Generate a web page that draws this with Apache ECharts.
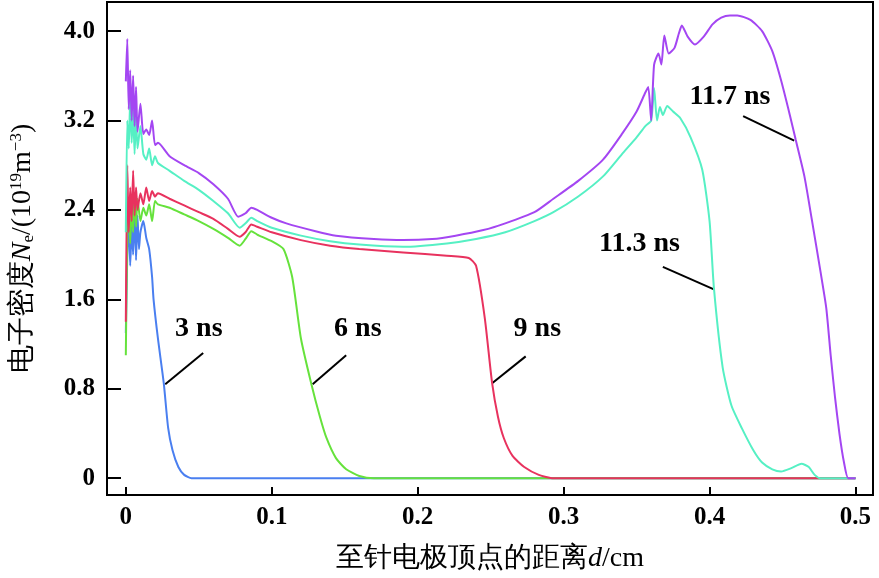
<!DOCTYPE html>
<html><head><meta charset="utf-8">
<script src="https://cdn.jsdelivr.net/npm/echarts@6/dist/echarts.min.js"></script>
<style>html,body{margin:0;padding:0;background:#fff}#c{width:879px;height:578px}</style>
</head><body><div id="c"></div>
<script>
// electron density profiles, [d (cm), Ne (1e19 m^-3)]
const s3ns = [[0,1.3],[0.001,2.0],[0.002,2.3],[0.003,1.9],[0.004,2.25],[0.005,2.0],[0.006,2.4],[0.007,1.95],[0.008,2.35],[0.009,2.05],[0.010,2.2],[0.012,2.3],[0.014,2.15],[0.016,2.05],[0.018,1.8],[0.019,1.6],[0.022,1.25],[0.026,0.85],[0.029,0.45],[0.032,0.25],[0.036,0.1],[0.040,0.03],[0.045,0],[0.10,0],[0.5,0]];
const s6ns = [[0,1.1],[0.001,2.2],[0.002,2.5],[0.003,2.1],[0.004,2.45],[0.005,2.2],[0.006,2.55],[0.007,2.25],[0.008,2.5],[0.010,2.3],[0.012,2.42],[0.014,2.35],[0.016,2.45],[0.018,2.3],[0.020,2.48],[0.022,2.45],[0.03,2.42],[0.04,2.36],[0.05,2.3],[0.06,2.23],[0.07,2.15],[0.078,2.08],[0.082,2.14],[0.086,2.21],[0.09,2.18],[0.10,2.12],[0.108,2.05],[0.114,1.8],[0.12,1.25],[0.127,0.85],[0.133,0.55],[0.1375,0.36],[0.144,0.18],[0.151,0.08],[0.16,0.02],[0.17,0],[0.5,0]];
const s9ns = [[0,1.4],[0.001,2.8],[0.002,2.2],[0.003,2.6],[0.004,2.3],[0.005,2.75],[0.006,2.35],[0.007,2.6],[0.008,2.4],[0.010,2.55],[0.012,2.45],[0.014,2.6],[0.016,2.48],[0.018,2.57],[0.020,2.52],[0.022,2.55],[0.03,2.5],[0.04,2.44],[0.05,2.38],[0.06,2.32],[0.07,2.23],[0.078,2.16],[0.082,2.2],[0.086,2.27],[0.09,2.25],[0.10,2.2],[0.12,2.13],[0.14,2.08],[0.16,2.05],[0.19,2.02],[0.22,1.99],[0.235,1.97],[0.24,1.9],[0.246,1.43],[0.251,0.85],[0.255,0.55],[0.259,0.36],[0.265,0.2],[0.273,0.1],[0.283,0.03],[0.293,0],[0.5,0]];
const s113ns = [[0,2.2],[0.001,3.2],[0.002,2.95],[0.003,3.4],[0.004,3.0],[0.005,3.3],[0.006,2.9],[0.007,3.25],[0.008,2.95],[0.010,3.15],[0.012,2.9],[0.014,2.85],[0.016,2.95],[0.018,2.8],[0.020,2.88],[0.022,2.82],[0.03,2.75],[0.04,2.66],[0.05,2.58],[0.06,2.48],[0.07,2.37],[0.078,2.24],[0.082,2.28],[0.086,2.33],[0.09,2.3],[0.10,2.24],[0.12,2.17],[0.14,2.12],[0.16,2.09],[0.19,2.07],[0.22,2.1],[0.24,2.14],[0.26,2.2],[0.28,2.3],[0.293,2.38],[0.31,2.52],[0.327,2.7],[0.34,2.9],[0.35,3.05],[0.356,3.15],[0.36,3.2],[0.362,3.49],[0.364,3.2],[0.366,3.32],[0.368,3.25],[0.371,3.33],[0.375,3.28],[0.38,3.22],[0.387,3.05],[0.395,2.76],[0.400,2.3],[0.403,1.7],[0.409,0.99],[0.415,0.65],[0.422,0.45],[0.43,0.25],[0.436,0.14],[0.443,0.08],[0.449,0.06],[0.456,0.09],[0.463,0.13],[0.468,0.1],[0.472,0.03],[0.476,0],[0.5,0]];
const s117ns = [[0,3.55],[0.001,3.93],[0.002,3.3],[0.003,3.65],[0.004,3.2],[0.005,3.6],[0.006,3.15],[0.007,3.5],[0.008,3.1],[0.010,3.35],[0.012,3.08],[0.014,3.12],[0.016,3.07],[0.018,3.2],[0.020,2.98],[0.022,3.0],[0.03,2.88],[0.04,2.8],[0.05,2.73],[0.06,2.63],[0.07,2.5],[0.077,2.34],[0.082,2.37],[0.086,2.42],[0.09,2.4],[0.10,2.33],[0.11,2.28],[0.13,2.21],[0.144,2.17],[0.17,2.14],[0.19,2.13],[0.21,2.14],[0.226,2.17],[0.245,2.22],[0.26,2.28],[0.28,2.38],[0.293,2.5],[0.31,2.66],[0.327,2.85],[0.34,3.08],[0.35,3.28],[0.356,3.45],[0.358,3.5],[0.360,3.2],[0.362,3.7],[0.365,3.8],[0.367,3.7],[0.369,3.96],[0.372,3.8],[0.376,3.85],[0.379,3.98],[0.381,4.05],[0.385,3.95],[0.39,3.88],[0.396,3.95],[0.402,4.06],[0.408,4.12],[0.414,4.14],[0.419,4.14],[0.428,4.1],[0.436,4.0],[0.443,3.82],[0.449,3.56],[0.455,3.25],[0.459,3.03],[0.465,2.7],[0.47,2.32],[0.476,1.85],[0.48,1.52],[0.483,1.1],[0.486,0.72],[0.489,0.4],[0.492,0.15],[0.495,0],[0.5,0]];
const labelText = ['3 ns','6 ns','9 ns','11.3 ns','11.7 ns'];
const labelPos = [[0.05,1.34],[0.159,1.34],[0.282,1.34],[0.352,2.1],[0.414,3.41]];
const leaderFrom = [[0.027,0.84],[0.128,0.84],[0.251,0.85],[0.403,1.69],[0.458,3.02]];
const leaderTo = [[0.053,1.12],[0.151,1.1],[0.274,1.09],[0.368,1.89],[0.423,3.24]];
const xTicks = [0,0.1,0.2,0.3,0.4,0.5];
const yTicks = [0,0.8,1.6,2.4,3.2,4.0];

const font = 'Liberation Serif';
const chart = echarts.init(document.getElementById('c'));
const line = (data, color) => ({ type: 'line', data, showSymbol: false, smooth: 0.2, lineStyle: { color, width: 2 }, silent: true, animation: false });
chart.setOption({
  animation: false,
  grid: { left: 98, right: 6, top: 2, bottom: 80, show: true, borderColor: '#000', borderWidth: 2 },
  xAxis: {
    type: 'value', min: -0.0129, max: 0.512,
    name: '至针电极顶点的距离{i|d}/cm', nameLocation: 'middle', nameGap: 50,
    nameTextStyle: { fontFamily: font, fontSize: 28, color: '#000', rich: { i: { fontFamily: font, fontStyle: 'italic', fontSize: 28, color: '#000' } } },
    axisLine: { onZero: false, lineStyle: { color: '#000', width: 2 } },
    axisTick: { inside: true, length: 8, lineStyle: { color: '#000', width: 2 }, customValues: xTicks },
    axisLabel: { customValues: xTicks, fontFamily: font, fontSize: 25, fontWeight: 'bold', color: '#000', margin: 10, formatter: v => v === 0 ? '0' : String(v) },
    splitLine: { show: false }
  },
  yAxis: {
    type: 'value', min: -0.15, max: 4.26,
    name: '电子密度{i|N}{sub|e}/(10{sup|19}m{sup|−3})', nameLocation: 'middle', nameGap: 70, nameRotate: 90,
    nameTextStyle: { fontFamily: font, fontSize: 28, color: '#000', rich: {
      i: { fontFamily: font, fontStyle: 'italic', fontSize: 28, color: '#000' },
      sub: { fontFamily: font, fontSize: 17, color: '#000', verticalAlign: 'bottom', padding: [12, 0, 0, 0] },
      sup: { fontFamily: font, fontSize: 17, color: '#000', verticalAlign: 'top', padding: [0, 0, 12, 0] } } },
    axisLine: { onZero: false, lineStyle: { color: '#000', width: 2 } },
    axisTick: { inside: true, length: 14, lineStyle: { color: '#000', width: 2 }, customValues: yTicks },
    axisLabel: { customValues: yTicks, fontFamily: font, fontSize: 25, fontWeight: 'bold', color: '#000', margin: 12, formatter: v => v === 0 ? '0' : v.toFixed(1) },
    splitLine: { show: false }
  },
  series: [
    line(s3ns, '#4a7ff0'),
    line(s6ns, '#66e23c'),
    line(s9ns, '#e8325e'),
    line(s113ns, '#56f0c4'),
    line(s117ns, '#a446f2'),
    {
      type: 'lines', coordinateSystem: 'cartesian2d', silent: true,
      lineStyle: { color: '#000', width: 2, opacity: 1 },
      data: leaderFrom.map((p, i) => ({ coords: [p, leaderTo[i]] }))
    },
    {
      type: 'scatter', symbolSize: 0, silent: true,
      data: labelPos.map((p, i) => ({ value: p, name: labelText[i] })),
      label: { show: true, position: 'inside', formatter: p => p.name, fontFamily: font, fontSize: 28, fontWeight: 'bold', color: '#000', textBorderWidth: 0, opacity: 1 }
    }
  ]
});
</script></body></html>
